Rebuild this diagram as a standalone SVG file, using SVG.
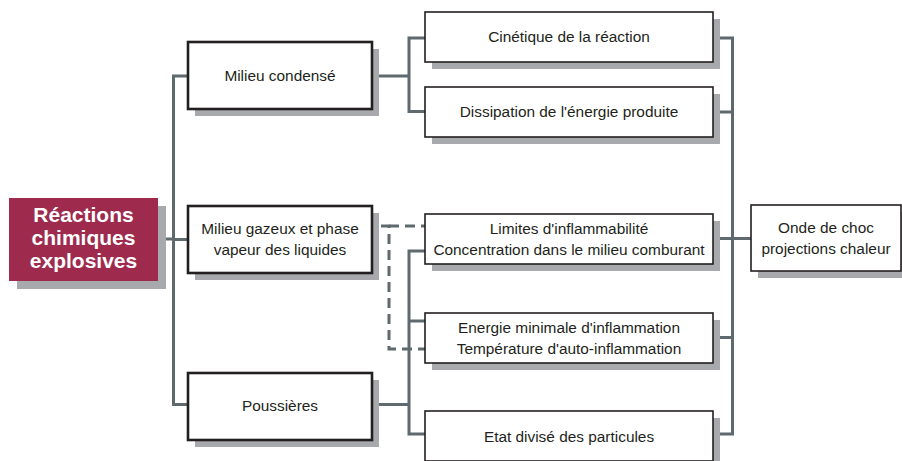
<svg xmlns="http://www.w3.org/2000/svg" width="902" height="461" viewBox="0 0 902 461">
  <style>
    .shadow { fill: #a7a9ac; }
    .box { fill: #ffffff; stroke: #231f20; stroke-width: 1.6; }
    .box-thick { fill: #ffffff; stroke: #231f20; stroke-width: 2.6; }
    .lbl { font-family: "Liberation Sans", Arial, sans-serif; font-size: 15.4px; fill: #231f20; text-anchor: middle; }
    .main-lbl { font-family: "Liberation Sans", Arial, sans-serif; font-size: 21px; font-weight: bold; fill: #ffffff; text-anchor: middle; }
    .link { fill: none; stroke: #5f6a6f; stroke-width: 3; }
    .link-dash { fill: none; stroke: #5f6a6f; stroke-width: 3; stroke-dasharray: 10 6; }
  </style>
  <rect width="902" height="461" fill="#ffffff"/>

  <!-- connectors -->
  <g id="connectors">
    <!-- root to first level -->
    <path class="link" d="M158 239 H173.5"/>
    <path class="link" d="M188 76 H173.5 V404.5 H188"/>
    <path class="link" d="M173.5 239.5 H188"/>
    <!-- Milieu condensé branch -->
    <path class="link" d="M372 76 H409"/>
    <path class="link" d="M425 38 H409 V111.5 H425"/>
    <!-- Poussières branch -->
    <path class="link" d="M372 404.5 H409"/>
    <path class="link" d="M425 251 H409 V434 H425"/>
    <path class="link" d="M409 321 H425"/>
    <!-- Milieu gazeux (dashed) -->
    <path class="link-dash" d="M381 226 H389 V349 H425"/>
    <path class="link-dash" d="M389 226 H425"/>
    <!-- right collector -->
    <path class="link" d="M713 38 H732.5 V434 H713"/>
    <path class="link" d="M713 112 H732.5"/>
    <path class="link" d="M713 238.5 H751"/>
    <path class="link" d="M713 337.5 H732.5"/>
  </g>

  <!-- root node -->
  <g id="node-reactions">
    <rect class="shadow" x="17" y="206" width="149" height="83"/>
    <rect x="9" y="198" width="149" height="83" fill="#9e2a4e"/>
    <text class="main-lbl" x="83.5" y="222">Réactions</text>
    <text class="main-lbl" x="83.5" y="245">chimiques</text>
    <text class="main-lbl" x="83.5" y="268">explosives</text>
  </g>

  <!-- first level -->
  <g id="node-condense">
    <rect class="shadow" x="195" y="49" width="184" height="67"/>
    <rect class="box-thick" x="188" y="42" width="184" height="67"/>
    <text class="lbl" x="280" y="81">Milieu condensé</text>
  </g>
  <g id="node-gazeux">
    <rect class="shadow" x="195" y="213" width="184" height="67"/>
    <rect class="box-thick" x="188" y="206" width="184" height="67"/>
    <text class="lbl" x="280" y="234">Milieu gazeux et phase</text>
    <text class="lbl" x="280" y="255">vapeur des liquides</text>
  </g>
  <g id="node-poussieres">
    <rect class="shadow" x="195" y="380" width="184" height="67"/>
    <rect class="box-thick" x="188" y="373" width="184" height="67"/>
    <text class="lbl" x="280" y="411">Poussières</text>
  </g>

  <!-- second level -->
  <g id="node-cinetique">
    <rect class="shadow" x="432" y="19" width="288" height="50"/>
    <rect class="box" x="425" y="12" width="288" height="50"/>
    <text class="lbl" x="569" y="42">Cinétique de la réaction</text>
  </g>
  <g id="node-dissipation">
    <rect class="shadow" x="432" y="94" width="288" height="50"/>
    <rect class="box" x="425" y="87" width="288" height="50"/>
    <text class="lbl" x="569" y="117">Dissipation de l'énergie produite</text>
  </g>
  <g id="node-limites">
    <rect class="shadow" x="432" y="221" width="288" height="50"/>
    <rect class="box" x="425" y="214" width="288" height="50"/>
    <text class="lbl" x="569" y="234">Limites d'inflammabilité</text>
    <text class="lbl" x="569" y="255">Concentration dans le milieu comburant</text>
  </g>
  <g id="node-energie">
    <rect class="shadow" x="432" y="320" width="288" height="50"/>
    <rect class="box" x="425" y="313" width="288" height="50"/>
    <text class="lbl" x="569" y="333">Energie minimale d'inflammation</text>
    <text class="lbl" x="569" y="354">Température d'auto-inflammation</text>
  </g>
  <g id="node-etat">
    <rect class="shadow" x="432" y="418" width="288" height="50"/>
    <rect class="box" x="425" y="411" width="288" height="50"/>
    <text class="lbl" x="569" y="442">Etat divisé des particules</text>
  </g>

  <!-- outcome -->
  <g id="node-onde">
    <rect class="shadow" x="758" y="212" width="150" height="66"/>
    <rect class="box" x="751" y="205" width="150" height="66"/>
    <text class="lbl" x="826" y="233">Onde de choc</text>
    <text class="lbl" x="826" y="254">projections chaleur</text>
  </g>
</svg>
